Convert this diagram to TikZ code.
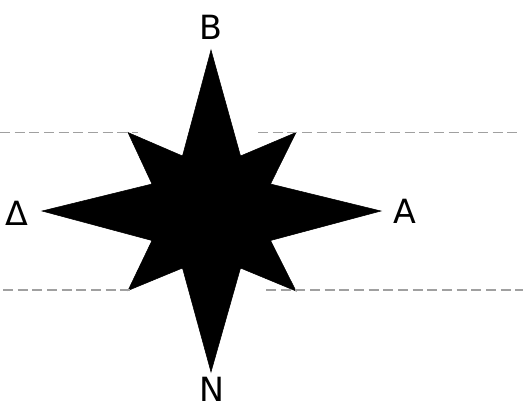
\documentclass[tikz,border=0pt]{standalone}
\usepackage{fontspec}
\setmainfont{DejaVu Sans}
\usepackage{tikz}

\tikzset{
  guide/.style={draw={rgb,255:red,160;green,160;blue,160}, line width=1.2pt, dash pattern={on 7.5pt off 3.5pt}},
  letter/.style={inner sep=0.75pt, font=\fontsize{25}{28}\selectfont},
}

\begin{document}
\begin{tikzpicture}[x=0.75pt,y=0.75pt,yscale=-1,xscale=1]
\useasboundingbox (0,0) rectangle (523,408);

%Shape: Star [id:compass]
\draw [fill=black, line join=miter] (211,50) -- (240.5,156) -- (296,132.5) -- (270.5,184) -- (381,211) -- (270.5,240.5) -- (296,291) -- (240.5,268) -- (211,372) -- (182.5,268) -- (128,290.5) -- (152,240.5) -- (42,211) -- (152,184) -- (128,132.5) -- (182.5,156) -- cycle ;

% guide ends
\coordinate (tl) at (0,132.5);
\coordinate (tlE) at (138,132.5);
\coordinate (trW) at (258,132.5);
\coordinate (tr) at (518,132.5);
\coordinate (bl) at (3,290);
\coordinate (blE) at (130,290);
\coordinate (brW) at (266,290);
\coordinate (br) at (523,290);

%Straight Lines
\draw [guide] (tl) -- (tlE) ;
\draw [guide] (trW) -- (tr) ;
\draw [guide] (bl) -- (blE) ;
\draw [guide] (brW) -- (br) ;

% Text Node
\node [letter] (vorras) at (211,27) {B};
% Text Node
\node [letter] (notos) at (212,389) {N};
% Text Node
\node [letter] (dysi) at (17,213) {Δ};
% Text Node
\node [letter] (anatoli) at (405,211) {A};

\end{tikzpicture}
\end{document}
